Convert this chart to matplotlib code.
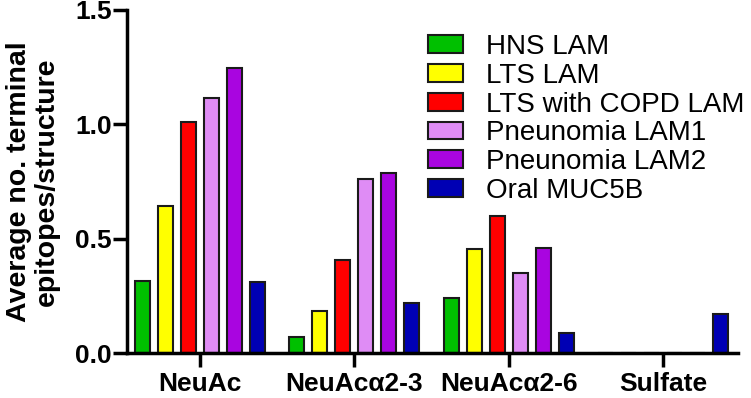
import matplotlib
matplotlib.use("Agg")
import matplotlib.pyplot as plt
import numpy as np

plt.rcParams["font.family"] = ["Liberation Sans", "DejaVu Sans"]

categories = ["NeuAc", "NeuAc\u03b12-3", "NeuAc\u03b12-6", "Sulfate"]
series_names = ["HNS LAM", "LTS LAM", "LTS with COPD LAM",
                "Pneunomia LAM1", "Pneunomia LAM2", "Oral MUC5B"]
hns_lam = [0.315, 0.068, 0.239, 0.0]
lts_lam = [0.643, 0.182, 0.453, 0.0]
lts_copd_lam = [1.01, 0.405, 0.599, 0.0]
pneu_lam1 = [1.116, 0.762, 0.348, 0.0]
pneu_lam2 = [1.248, 0.786, 0.458, 0.0]
oral_muc5b = [0.312, 0.22, 0.089, 0.169]
colors = ["#00C000", "#FFFF00", "#FF0000", "#DF8CF5", "#A905E0", "#0000B4"]


def main():
    values = [hns_lam, lts_lam, lts_copd_lam, pneu_lam1, pneu_lam2, oral_muc5b]

    fig = plt.figure(figsize=(7.51, 3.98), dpi=100)
    ax = fig.add_axes([0.169, 0.113, 0.814, 0.862])

    x = np.arange(len(categories))
    step = 0.149
    width = 0.097
    for i, (vals, name, c) in enumerate(zip(values, series_names, colors)):
        offs = (i - 2.5) * step
        ax.bar(x + offs, vals, width, color=c, edgecolor="#1a1a1a",
               linewidth=1.5, label=name, zorder=2)

    ax.set_xlim(-0.474, 3.487)
    ax.set_ylim(0, 1.5)
    ax.set_yticks([0, 0.5, 1.0, 1.5])
    ax.set_yticklabels(["0.0", "0.5", "1.0", "1.5"])
    ax.set_xticks(x)
    ax.set_xticklabels(categories)

    for s in ["top", "right"]:
        ax.spines[s].set_visible(False)
    for s in ["left", "bottom"]:
        ax.spines[s].set_linewidth(2.5)
    ax.tick_params(axis="both", width=2.5, length=10, labelsize=19)
    ax.tick_params(axis="y", pad=1)
    ax.tick_params(axis="x", pad=4)
    for lab in ax.get_xticklabels() + ax.get_yticklabels():
        lab.set_fontweight("bold")

    ax.set_ylabel("Average no. terminal\nepitopes/structure",
                  fontsize=20.5, fontweight="bold", labelpad=11,
                  linespacing=1.1)

    ax.legend(loc="upper left", bbox_to_anchor=(0.493, 0.93), frameon=False,
              fontsize=20, handlelength=1.26, handleheight=0.61,
              labelspacing=0.1, handletextpad=0.83, borderaxespad=0,
              borderpad=0)

    fig.savefig("out.png", dpi=100)


if __name__ == "__main__":
    main()
